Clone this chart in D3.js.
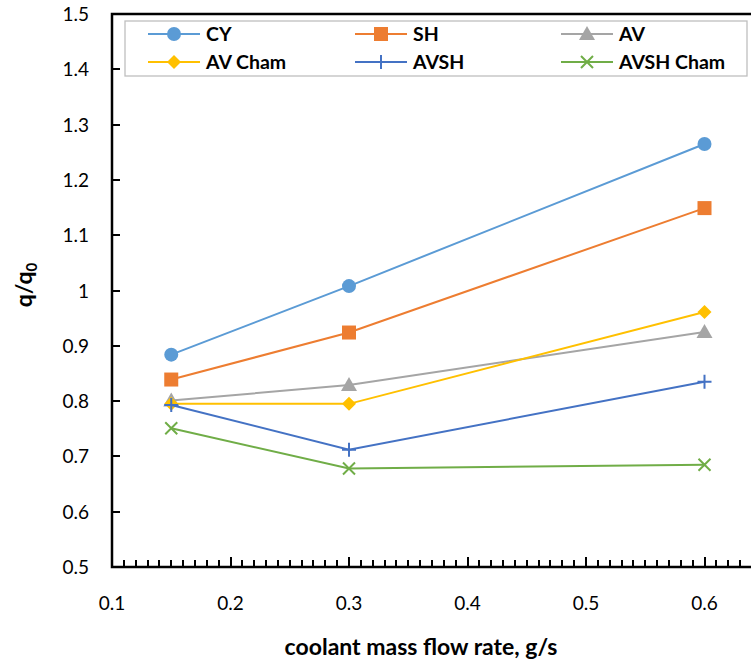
<!DOCTYPE html>
<html>
<head>
<meta charset="utf-8">
<script src="https://cdnjs.cloudflare.com/ajax/libs/d3/7.8.5/d3.min.js"></script>
<style>
  body { margin: 0; background: #fff; }
  svg { display: block; font-family: Lato, "Open Sans", sans-serif; }
  .tick-label { font-size: 19px; fill: #000; }
  .axis-title { font-size: 23px; font-weight: bold; fill: #000; }
  .legend-text { font-size: 19.5px; font-weight: bold; fill: #000; }
</style>
</head>
<body>
<div id="chart"></div>
<script>
// data
var flowRates = [0.15, 0.3, 0.6];
var seriesNames = ["CY", "SH", "AV", "AV Cham", "AVSH", "AVSH Cham"];
var cyValues = [0.884, 1.008, 1.265];
var shValues = [0.839, 0.924, 1.149];
var avValues = [0.801, 0.829, 0.925];
var avChamValues = [0.795, 0.795, 0.961];
var avshValues = [0.793, 0.712, 0.835];
var avshChamValues = [0.751, 0.678, 0.685];
var xTicks = [0.1, 0.2, 0.3, 0.4, 0.5, 0.6];
var yTicks = [0.5, 0.6, 0.7, 0.8, 0.9, 1, 1.1, 1.2, 1.3, 1.4, 1.5];

var colors = {
    "CY": "#5B9BD5",
    "SH": "#ED7D31",
    "AV": "#A5A5A5",
    "AV Cham": "#FFC000",
    "AVSH": "#4472C4",
    "AVSH Cham": "#70AD47"
};
var markers = {
    "CY": "circle",
    "SH": "square",
    "AV": "triangle",
    "AV Cham": "diamond",
    "AVSH": "plus",
    "AVSH Cham": "cross"
};

var allValues = [cyValues, shValues, avValues, avChamValues, avshValues, avshChamValues];
var series = seriesNames.map(function (name, i) {
    return {
        name: name,
        points: flowRates.map(function (f, j) { return { x: f, y: allValues[i][j] }; })
    };
});

var W = 751, H = 662;
var margin = { top: 14, left: 112 };

var svg = d3.select("#chart").append("svg")
    .attr("width", W)
    .attr("height", H);

// axis runs to 0.7, which falls outside the picture
var x = d3.scaleLinear()
    .domain([0.1, 0.7])
    .range([margin.left, margin.left + 6 * 118.5]);

var y = d3.scaleLinear()
    .domain([0.5, 1.5])
    .range([567, margin.top]);

// frame
svg.append("path")
    .attr("d", "M" + x(0.7) + "," + y(1.5) + "H" + margin.left + "V" + y(0.5) + "H" + x(0.7))
    .attr("fill", "none")
    .attr("stroke", "#000")
    .attr("stroke-width", 2.5);

// x axis: minor ticks every 0.01, major every 0.1, pointing inward
var minorTicks = d3.range(0, 61);
svg.append("g")
    .selectAll("rect")
    .data(minorTicks)
    .enter()
    .append("rect")
    .attr("x", function (i) { return Math.round(x(0.1 + i * 0.01)) - 1; })
    .attr("y", function (i) { return 566 - (i % 10 == 0 ? 9 : 6); })
    .attr("width", 2)
    .attr("height", function (i) { return i % 10 == 0 ? 9 : 6; })
    .attr("fill", "#000");

svg.append("g")
    .selectAll("text")
    .data(xTicks)
    .enter()
    .append("text")
    .attr("class", "tick-label")
    .attr("x", function (d) { return x(d); })
    .attr("y", 610)
    .attr("text-anchor", "middle")
    .text(function (d) { return d3.format(".1f")(d); });

// y axis: ticks inward
svg.append("g")
    .selectAll("rect")
    .data(yTicks)
    .enter()
    .append("rect")
    .attr("x", margin.left)
    .attr("y", function (d) { return Math.round(y(d)) - 1; })
    .attr("width", 8)
    .attr("height", 2)
    .attr("fill", "#000");

svg.append("g")
    .selectAll("text")
    .data(yTicks)
    .enter()
    .append("text")
    .attr("class", "tick-label")
    .attr("x", 89)
    .attr("y", function (d) { return y(d) + 7; })
    .attr("text-anchor", "end")
    .text(function (d) { return d == 1 ? "1" : d3.format(".1f")(d); });

function drawMarker(g, type, color) {
    var s = 7;
    if (type == "circle") {
        g.append("circle").attr("r", 7).attr("fill", color);
    } else if (type == "square") {
        g.append("rect").attr("x", -s).attr("y", -s).attr("width", 2 * s).attr("height", 2 * s).attr("fill", color);
    } else if (type == "triangle") {
        g.append("path").attr("d", "M0,-8L8,6L-8,6Z").attr("fill", color);
    } else if (type == "diamond") {
        g.append("path").attr("d", "M0,-7L7,0L0,7L-7,0Z").attr("fill", color);
    } else if (type == "plus") {
        g.append("path").attr("d", "M-7,0H7M0,-7V7").attr("stroke", color).attr("stroke-width", 2);
    } else if (type == "cross") {
        g.append("path").attr("d", "M-6,-6L6,6M-6,6L6,-6").attr("stroke", color).attr("stroke-width", 2);
    }
}

var line = d3.line()
    .x(function (d) { return x(d.x); })
    .y(function (d) { return y(d.y); });

var seriesG = svg.append("g")
    .selectAll("g")
    .data(series)
    .enter()
    .append("g");

seriesG.append("path")
    .attr("d", function (d) { return line(d.points); })
    .attr("fill", "none")
    .attr("stroke", function (d) { return colors[d.name]; })
    .attr("stroke-width", 2);

seriesG.each(function (d) {
    var g = d3.select(this);
    d.points.forEach(function (p) {
        var m = g.append("g").attr("transform", "translate(" + x(p.x) + "," + y(p.y) + ")");
        drawMarker(m, markers[d.name], colors[d.name]);
    });
});

// legend
var legend = svg.append("g");
legend.append("rect")
    .attr("x", 125)
    .attr("y", 21)
    .attr("width", 622)
    .attr("height", 55)
    .attr("fill", "#fff")
    .attr("stroke", "#bfbfbf")
    .attr("stroke-width", 1.3);

var colX = [148, 355, 561];
var rowY = [34, 62];
seriesNames.forEach(function (name, i) {
    var lx = colX[i % 3], ly = rowY[Math.floor(i / 3)];
    legend.append("line")
        .attr("x1", lx).attr("x2", lx + 52)
        .attr("y1", ly).attr("y2", ly)
        .attr("stroke", colors[name])
        .attr("stroke-width", 2);
    var m = legend.append("g").attr("transform", "translate(" + (lx + 26) + "," + ly + ")");
    drawMarker(m, markers[name], colors[name]);
    legend.append("text")
        .attr("class", "legend-text")
        .attr("x", lx + 58)
        .attr("y", ly + 7)
        .text(name);
});

// axis titles
svg.append("text")
    .attr("class", "axis-title")
    .attr("x", 421)
    .attr("y", 655)
    .attr("text-anchor", "middle")
    .text("coolant mass flow rate, g/s");

var yt = svg.append("text")
    .attr("class", "axis-title")
    .attr("transform", "translate(32,285) rotate(-90)")
    .attr("text-anchor", "middle");
yt.append("tspan").text("q/q");
yt.append("tspan").attr("dy", 5).attr("font-size", 15).text("0");
</script>
</body>
</html>
